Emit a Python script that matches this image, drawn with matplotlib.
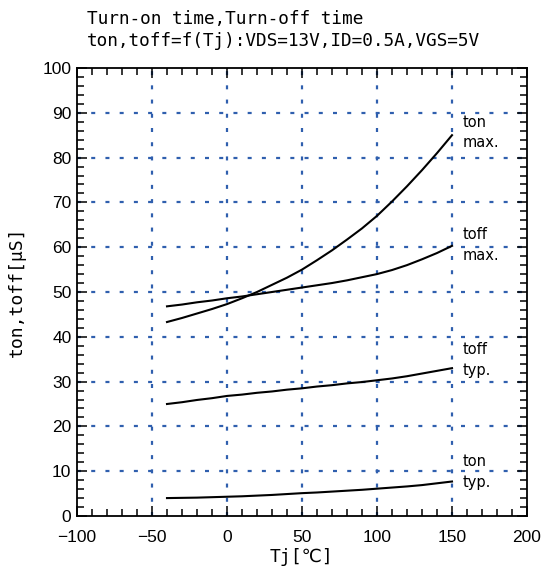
import numpy as np
import matplotlib
matplotlib.use('Agg')
import matplotlib.pyplot as plt
from matplotlib.ticker import MultipleLocator

# Data (every 10 degC)
tj = [-40, -30, -20, -10, 0, 10, 20, 30, 40, 50,
      60, 70, 80, 90, 100, 110, 120, 130, 140, 150]
ton_max = [43.3, 44.2, 45.2, 46.2, 47.3, 48.6, 50.0, 51.6, 53.2, 55.0,
           57.1, 59.3, 61.7, 64.2, 67.0, 70.2, 73.6, 77.2, 81.0, 85.0]
toff_max = [46.8, 47.2, 47.7, 48.1, 48.6, 49.0, 49.5, 50.0, 50.5, 51.0,
            51.5, 52.0, 52.6, 53.3, 54.0, 54.9, 56.0, 57.3, 58.7, 60.3]
toff_typ = [25.0, 25.4, 25.9, 26.3, 26.8, 27.1, 27.5, 27.8, 28.2, 28.5,
            28.9, 29.2, 29.6, 29.9, 30.3, 30.7, 31.2, 31.8, 32.4, 33.0]
ton_typ = [4.0, 4.05, 4.1, 4.2, 4.3, 4.4, 4.55, 4.7, 4.9, 5.1,
           5.25, 5.45, 5.65, 5.85, 6.1, 6.35, 6.6, 6.9, 7.3, 7.7]

curve_labels = ['ton\nmax.', 'toff\nmax.', 'toff\ntyp.', 'ton\ntyp.']
label_y      = [85.6, 60.5, 34.8, 9.8]

x_grid = [-50, 0, 50, 100, 150]
y_grid = [10, 20, 30, 40, 50, 60, 70, 80, 90]

MONO = ['DejaVu Sans Mono', 'DejaVu Sans', 'Noto Sans CJK JP']
GRID_COLOR = '#2f5fae'

fig = plt.figure(figsize=(5.46, 5.73), dpi=100)
ax = fig.add_axes([77/546, 57/573, 450/546, 448/573])

# dotted blue grid
for gx in x_grid:
    ax.axvline(gx, color=GRID_COLOR, lw=1.6, ls=(0, (1.8, 4.6)), zorder=1)
for gy in y_grid:
    ax.axhline(gy, color=GRID_COLOR, lw=1.6, ls=(0, (1.8, 4.6)), zorder=1)

for ys in [ton_max, toff_max, toff_typ, ton_typ]:
    ax.plot(tj, ys, color='black', lw=1.5, zorder=3)

for txt, ly in zip(curve_labels, label_y):
    ax.text(157, ly, txt, fontsize=10.5, family=['DejaVu Sans'], va='center',
            ha='left', linespacing=1.45, zorder=4)

ax.set_xlim(-100, 200)
ax.set_ylim(0, 100)
ax.xaxis.set_major_locator(MultipleLocator(50))
ax.xaxis.set_minor_locator(MultipleLocator(10))
ax.yaxis.set_major_locator(MultipleLocator(10))
ax.yaxis.set_minor_locator(MultipleLocator(2))
ax.tick_params(which='both', direction='in', top=True, right=True, width=1.1)
ax.tick_params(which='major', length=7.5, labelsize=12.5)
ax.tick_params(axis='x', which='major', pad=10)
ax.tick_params(axis='y', which='major', pad=4)
ax.tick_params(which='minor', length=5)
for lab in ax.get_xticklabels() + ax.get_yticklabels():
    lab.set_family('Liberation Sans')
for sp in ax.spines.values():
    sp.set_linewidth(1.3)
    sp.set_zorder(5)

ax.set_xlabel('Tj[℃]', fontsize=13, family=MONO, labelpad=2)
ax.set_ylabel('ton,toff[μS]', fontsize=13, family=MONO, labelpad=12)

ax.text(0.022, 1.04, 'Turn-on time,Turn-off time\nton,toff=f(Tj):VDS=13V,ID=0.5A,VGS=5V',
        transform=ax.transAxes, fontsize=12.8, family=MONO, ha='left', va='bottom',
        linespacing=1.3)

plt.savefig('out.png', dpi=100)
plt.close()
